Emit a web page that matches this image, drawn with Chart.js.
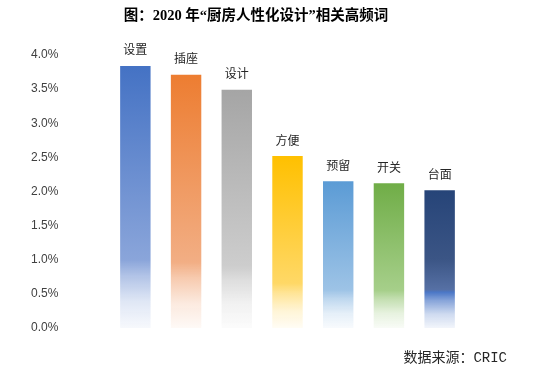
<!DOCTYPE html>
<html lang="zh">
  <head>
    <meta charset="UTF-8" />
    <script src="https://cdn.jsdelivr.net/npm/chart.js@4.4.1/dist/chart.umd.min.js"></script>
    <style>
      body { margin: 0; background: #fff; }
      #wrap { width: 550px; height: 378px; }
    </style>
  </head>
  <body>
    <div id="wrap">
      <canvas id="myChart" width="550" height="378"></canvas>
    </div>

    <script>
      // data (percent)
      const categories = ["设置", "插座", "设计", "方便", "预留", "开关", "台面"];
      const values = [3.84, 3.71, 3.49, 2.52, 2.15, 2.12, 2.02];
      const yTicks = [0, 0.5, 1.0, 1.5, 2.0, 2.5, 3.0, 3.5, 4.0];

      const titleText = "图：2020 年“厨房人性化设计”相关高频词";
      const sourceText = "数据来源：CRIC";

      // top colour, colour just before the fade-out
      const barColors = [
        ["#4472C4", "#8aa5da"],
        ["#ED7D31", "#f2ae84"],
        ["#A5A5A5", "#cdcdcd"],
        ["#FFC000", "#ffd866"],
        ["#5B9BD5", "#9dc3e6"],
        ["#70AD47", "#a6cf8a"],
        ["#264478", "#4a76c6"],
      ];

      function barFill(context) {
        const chart = context.chart;
        if (!chart.chartArea || !chart.scales.y) return barColors[context.dataIndex][0];
        const i = context.dataIndex;
        const yScale = chart.scales.y;
        const top = yScale.getPixelForValue(values[i]);
        const bottom = yScale.getPixelForValue(0);
        const g = chart.ctx.createLinearGradient(0, top, 0, bottom);
        const [c0, c1] = barColors[i];
        g.addColorStop(0, c0);
        if (i === 6) {
          g.addColorStop(0.5, "#3b5585");
          g.addColorStop(0.72, "#5670a4");
        }
        g.addColorStop(0.74, c1);
        g.addColorStop(0.8, c1 + "aa");
        g.addColorStop(0.9, c1 + "44");
        g.addColorStop(1, c1 + "12");
        return g;
      }

      // category names above the bars + title + source line
      const textPlugin = {
        id: "texts",
        afterDatasetsDraw(chart) {
          const ctx = chart.ctx;
          const meta = chart.getDatasetMeta(0);
          ctx.save();
          ctx.fillStyle = "#262626";
          ctx.font = "12px 'Noto Sans CJK SC'";
          ctx.textAlign = "center";
          ctx.textBaseline = "middle";
          meta.data.forEach((bar, i) => {
            ctx.fillText(categories[i], bar.x, bar.y - 16);
          });

          ctx.fillStyle = "#000";
          ctx.font = "bold 14.5px 'Liberation Serif', 'Noto Sans CJK SC'";
          ctx.fillText(titleText, 256, 16);

          ctx.fillStyle = "#262626";
          ctx.font = "14px 'Liberation Mono', 'Noto Sans CJK SC'";
          ctx.textAlign = "right";
          ctx.fillText(sourceText, 507, 358);
          ctx.restore();
        },
      };

      const ctx = document.getElementById("myChart").getContext("2d");
      const myChart = new Chart(ctx, {
        type: "bar",
        data: {
          labels: categories,
          datasets: [
            {
              data: values,
              backgroundColor: barFill,
              barPercentage: 0.6,
              categoryPercentage: 1,
            },
          ],
        },
        options: {
          responsive: false,
          animation: false,
          layout: {
            padding: { top: 55, bottom: 50, left: 31, right: 85 },
          },
          plugins: {
            legend: { display: false },
            tooltip: { enabled: false },
          },
          scales: {
            x: {
              grid: { display: false, drawTicks: false },
              border: { display: false },
              ticks: { display: false },
            },
            y: {
              min: 0,
              max: 4,
              grid: { display: false, drawTicks: false },
              border: { display: false },
              afterBuildTicks: (axis) => {
                axis.ticks = yTicks.map((v) => ({ value: v }));
              },
              afterFit: (axis) => {
                axis.width = 79;
              },
              ticks: {
                padding: 0,
                crossAlign: "far",
                color: "#404040",
                font: { family: "'Liberation Sans'", size: 12 },
                callback: (value) => value.toFixed(1) + "%",
              },
            },
          },
        },
        plugins: [textPlugin],
      });
    </script>
  </body>
</html>
